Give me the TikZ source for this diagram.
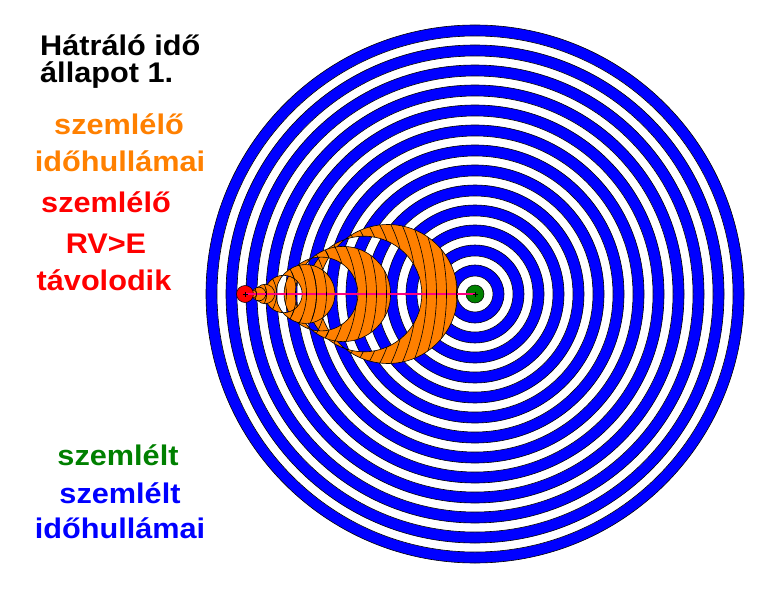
\documentclass[tikz,border=0pt]{standalone}
\usepackage{fontspec}
\setmainfont{Liberation Sans}[FakeStretch=1.08]
\definecolor{ringblue}{RGB}{0,0,255}
\definecolor{wavorange}{RGB}{255,128,0}
\definecolor{obsred}{RGB}{255,0,0}
\definecolor{tgtgreen}{RGB}{0,128,0}
\definecolor{linkpink}{RGB}{255,0,128}
\tikzset{
  ringline/.style={draw=black,line width=0.6bp},
  waveline/.style={draw=black,line width=0.6bp},
  lbl/.style={inner sep=0pt,anchor=base,font=\fontsize{28.5}{30}\selectfont\bfseries},
  lblw/.style={lbl,anchor=base west},
}
\newcommand{\obswaves}{\foreach \k in {1,...,21} \draw[waveline] (245,294) circle[radius={10*\k+1.5}];}
\begin{document}
\begin{tikzpicture}[x=1bp,y=-1bp]
\useasboundingbox (0,0) rectangle (780,600);
\fill[white] (0,0) rectangle (780,600);
% blue rings of the observed one
\foreach \k in {12,11,...,0}{
  \filldraw[fill=ringblue,ringline] (475,294) circle[radius={29+20*\k}];
  \filldraw[fill=white,ringline] (475,294) circle[radius={18+20*\k}];
}
% observer's wave bands (Mach-type circles, centre 245+d, radius 0.486 d)
\filldraw[fill=wavorange,waveline,even odd rule] (388,294) circle[radius=69.5] (364,294) circle[radius=57.8];
\filldraw[fill=wavorange,waveline,even odd rule] (343,294) circle[radius=47.6] (321,294) circle[radius=36.9];
\filldraw[fill=wavorange,waveline,even odd rule] (305.5,294) circle[radius=29.4] (283.5,294) circle[radius=18.7];
\foreach \d in {20,14,8,4}{
  \filldraw[fill=wavorange,waveline] ({245+\d},294) circle[radius={0.486*\d}];
}
% observer and observed
\node[circle,fill=obsred,draw=black,line width=0.5bp,minimum size=17bp,inner sep=0pt] (obs) at (245,294) {};
\node[circle,fill=tgtgreen,draw=black,line width=0.5bp,minimum size=18bp,inner sep=0pt] (tgt) at (475,294) {};
\draw[linkpink,line width=1.3bp] (obs.center) -- (tgt.center);
% observer's time waves, seen inside the orange bands
\begin{scope}[even odd rule]
  \clip (388,294) circle[radius=69.5] (364,294) circle[radius=57.8];
  \obswaves
\end{scope}
\begin{scope}[even odd rule]
  \clip (343,294) circle[radius=47.6] (321,294) circle[radius=36.9];
  \obswaves
\end{scope}
\begin{scope}[even odd rule]
  \clip (305.5,294) circle[radius=29.4] (283.5,294) circle[radius=18.7];
  \obswaves
\end{scope}
\begin{scope}
  \clip (265,294) circle[radius=9.72] (259,294) circle[radius=6.8] (253,294) circle[radius=3.9] (249,294) circle[radius=1.95];
  \obswaves
\end{scope}
\draw[black,line width=0.8bp] ([xshift=-2.5bp]obs.center) -- ([xshift=2.5bp]obs.center)
  ([yshift=-2.5bp]obs.center) -- ([yshift=2.5bp]obs.center);
\draw[black,line width=0.8bp] ([xshift=-2.5bp]tgt.center) -- ([xshift=2.5bp]tgt.center)
  ([yshift=-2.5bp]tgt.center) -- ([yshift=2.5bp]tgt.center);
% texts
\node[lblw,text=black] (t1) at (40,56) {Hátráló idő};
\node[lblw,text=black] (t2) at (40,83) {állapot 1.};
\node[lbl,text=wavorange] (t3) at (119,135) {szemlélő};
\node[lbl,text=wavorange] (t4) at (120,172) {időhullámai};
\node[lbl,text=obsred] (t5) at (106,213) {szemlélő};
\node[lbl,text=obsred] (t6) at (106,253) {RV>E};
\node[lbl,text=obsred] (t7) at (104,290) {távolodik};
\node[lbl,text=tgtgreen] (t8) at (118,465) {szemlélt};
\node[lbl,text=ringblue] (t9) at (120,503) {szemlélt};
\node[lbl,text=ringblue] (t10) at (120,538) {időhullámai};
\end{tikzpicture}
\end{document}
